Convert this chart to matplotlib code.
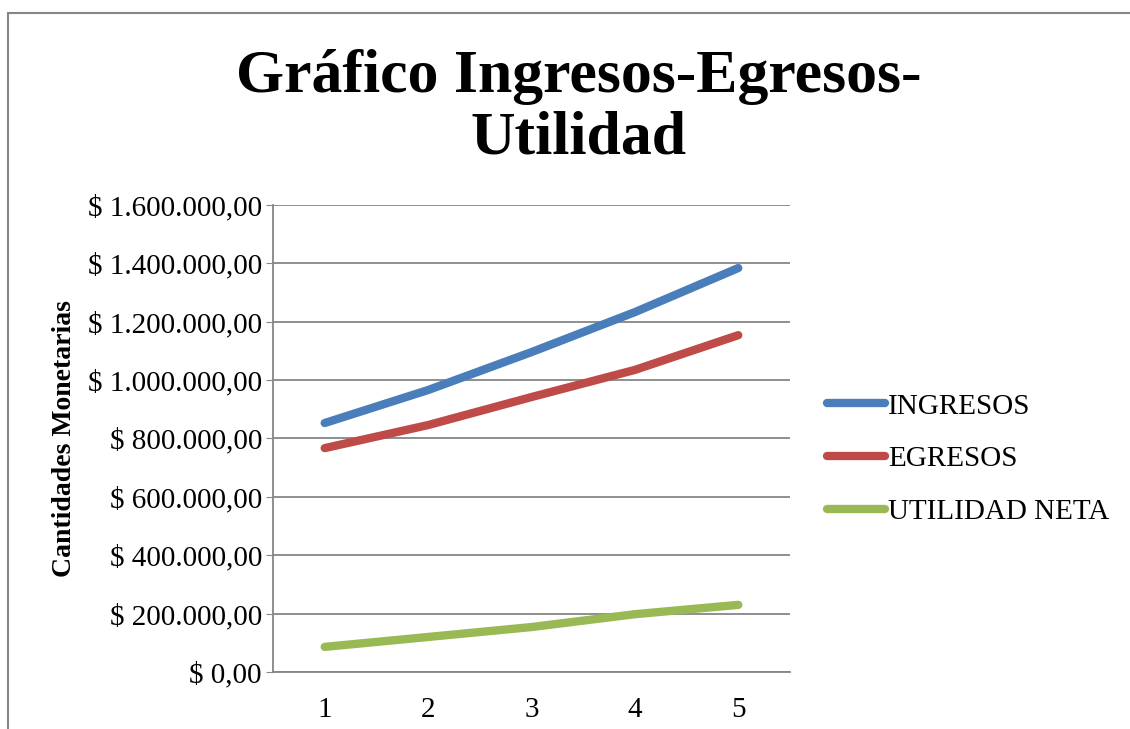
import matplotlib
matplotlib.use('Agg')
import matplotlib.pyplot as plt
from matplotlib.patches import Rectangle
from matplotlib.ticker import FuncFormatter, MultipleLocator

periodos = [1, 2, 3, 4, 5]
ingresos = [853000, 966000, 1096000, 1233000, 1384000]
egresos = [767000, 846000, 942000, 1035000, 1154000]
utilidad = [86000, 120000, 154000, 198000, 230000]

series = ['INGRESOS', 'EGRESOS', 'UTILIDAD NETA']
colores = ['#4A7EBB', '#BE4B48', '#98B954']

plt.rcParams['font.family'] = ['Liberation Serif', 'DejaVu Serif']

def pesos(v, pos):
    s = '{:,.2f}'.format(v)
    s = s.replace(',', 'X').replace('.', ',').replace('X', '.')
    return '$ ' + s

fig = plt.figure(figsize=(11.3, 7.29), dpi=100)
ax = fig.add_axes([0.2416, 0.0782, 0.4575, 0.6406])

for vals, nombre, col in zip([ingresos, egresos, utilidad], series, colores):
    ax.plot(periodos, vals, color=col, lw=6, solid_capstyle='round', label=nombre)

ax.set_xlim(0.5, 5.5)
ax.set_ylim(0, 1600000)
ax.yaxis.set_major_locator(MultipleLocator(200000))
ax.yaxis.set_major_formatter(FuncFormatter(pesos))
ax.set_xticks(periodos)
ax.grid(axis='y', color='#868686', lw=1.3)
ax.set_axisbelow(True)
for s in ['top', 'right']:
    ax.spines[s].set_visible(False)
for s in ['left', 'bottom']:
    ax.spines[s].set_color('#868686')
    ax.spines[s].set_linewidth(1.3)
ax.tick_params(axis='y', labelsize=21, length=5, color='#868686', pad=3)
ax.tick_params(axis='x', labelsize=21, length=0, pad=18)
ax.set_ylabel('Cantidades Monetarias', fontsize=20, fontweight='bold')
ax.yaxis.set_label_coords(-0.38, 0.5)

fig.text(0.512, 0.852, 'Gráfico Ingresos-Egresos-\nUtilidad', ha='center', va='center',
         fontsize=44.5, fontweight='bold', linespacing=1.12)

fig.legend(loc='center left', bbox_to_anchor=(0.7215, 0.370), fontsize=21, frameon=False,
           handlelength=2.0, handletextpad=0.1, labelspacing=0.91, borderaxespad=0)

fig.patches.append(Rectangle((8 / 1130, -0.1), 1.2, 0.1 + 716 / 729, transform=fig.transFigure,
                             fill=False, edgecolor='#868686', lw=1.5))

fig.savefig('out.png', dpi=100)
